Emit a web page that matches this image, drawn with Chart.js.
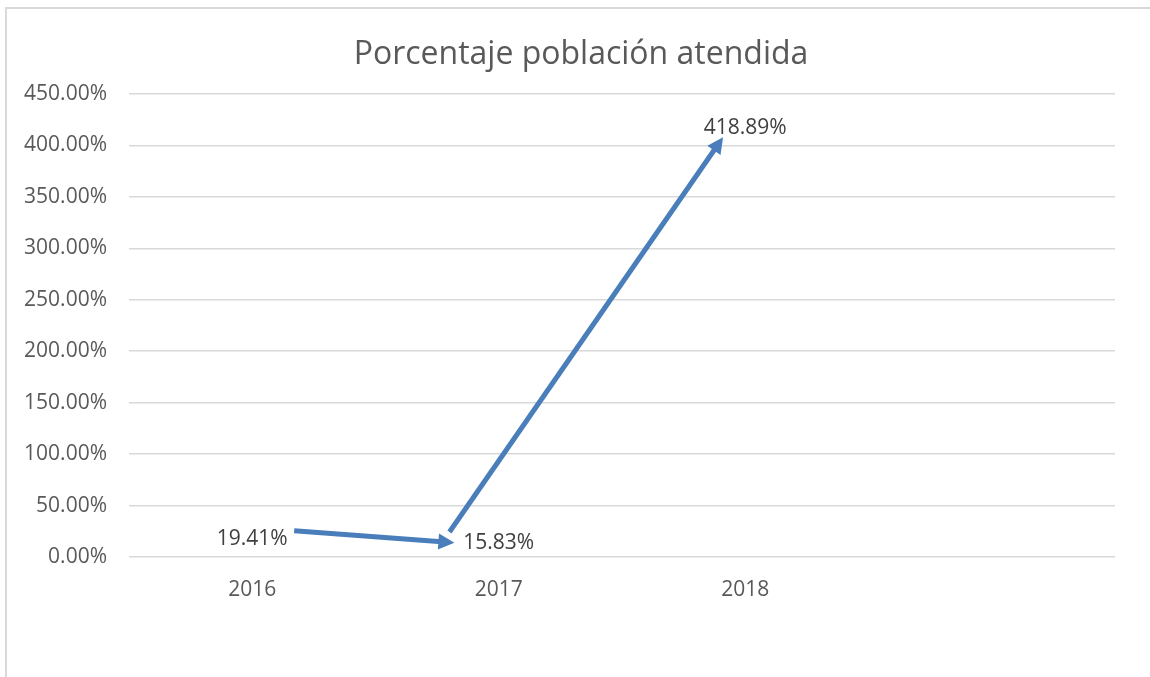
<!DOCTYPE html>
<html>
<head>
<meta charset="utf-8">
<script src="https://cdn.jsdelivr.net/npm/chart.js@4.4.1/dist/chart.umd.min.js"></script>
<style>
  body { margin: 0; background: #fff; overflow: hidden; }
  .frame { position: absolute; left: 5px; top: 7px; width: 1180px; height: 700px; border: 2px solid #d9d9d9; }
  .wrap { position: absolute; left: 0; top: 0; width: 1150px; height: 677px; }
</style>
</head>
<body>
<div class="frame"></div>
<div class="wrap"><canvas id="chart"></canvas></div>
<script>
  // Data
  const years = ['2016', '2017', '2018', ''];
  const attended = [19.41, 15.83, 418.89, null];
  const yTicks = [0, 50, 100, 150, 200, 250, 300, 350, 400, 450];
  const chartTitle = 'Porcentaje población atendida';

  // Arrows drawn over the chart, in data units (category index, percent)
  const arrowFrom = [[0.17, 25.6], [0.80, 24.3]];
  const arrowTo = [[0.82, 13.9], [1.91, 408]];

  const font = "'Open Sans', 'Liberation Sans', sans-serif";

  // draws the title, the arrows and the data labels
  const overlay = {
    id: 'overlay',
    afterDatasetsDraw(chart) {
      const c = chart.ctx;
      const xs = chart.scales.x, ys = chart.scales.y;
      c.save();
      // title is centred on the whole (wider) chart frame, not on the canvas
      c.fillStyle = '#595959';
      c.font = '32px ' + font;
      c.textAlign = 'center';
      c.textBaseline = 'middle';
      c.fillText(chartTitle, chart.width / 2 + 6, 55);

      c.strokeStyle = '#4a7ebb';
      c.fillStyle = '#4a7ebb';
      c.lineWidth = 5;
      arrowFrom.forEach((f, i) => {
        const t = arrowTo[i];
        const x1 = xs.getPixelForValue(f[0]), y1 = ys.getPixelForValue(f[1]);
        const x2 = xs.getPixelForValue(t[0]), y2 = ys.getPixelForValue(t[1]);
        const a = Math.atan2(y2 - y1, x2 - x1);
        const head = 16, half = 8;
        c.beginPath();
        c.moveTo(x1, y1);
        c.lineTo(x2 - Math.cos(a) * head * 0.8, y2 - Math.sin(a) * head * 0.8);
        c.stroke();
        c.beginPath();
        c.moveTo(x2, y2);
        c.lineTo(x2 - Math.cos(a) * head - Math.sin(a) * half, y2 - Math.sin(a) * head + Math.cos(a) * half);
        c.lineTo(x2 - Math.cos(a) * head + Math.sin(a) * half, y2 - Math.sin(a) * head - Math.cos(a) * half);
        c.closePath();
        c.fill();
      });
      c.fillStyle = '#404040';
      c.font = '21px ' + font;
      chart.getDatasetMeta(0).data.forEach((p, i) => {
        if (attended[i] == null) return;
        c.fillText(attended[i].toFixed(2) + '%', p.x, p.y + 2);
      });
      c.restore();
    }
  };

  const ctx = document.getElementById('chart').getContext('2d');
  new Chart(ctx, {
    type: 'line',
    data: {
      labels: years,
      datasets: [{
        label: chartTitle,
        data: attended,
        showLine: false,
        pointRadius: 0
      }]
    },
    options: {
      responsive: true,
      maintainAspectRatio: false,
      animation: false,
      layout: { padding: { left: 0, right: 35, top: 94, bottom: 0 } },
      scales: {
        x: {
          offset: true,
          grid: { display: false, drawTicks: false },
          border: { display: false },
          ticks: { color: '#595959', font: { family: font, size: 21 }, padding: 20 },
          afterFit(s) { s.height = 120; }
        },
        y: {
          min: yTicks[0],
          max: yTicks[yTicks.length - 1],
          grid: { color: '#d9d9d9', lineWidth: 1.5, drawTicks: false },
          border: { display: false },
          ticks: {
            stepSize: yTicks[1] - yTicks[0],
            color: '#595959',
            font: { family: font, size: 21 },
            padding: 22,
            callback: (v, i) => yTicks[i].toFixed(2) + '%'
          },
          afterFit(s) { s.width = 129; }
        }
      },
      plugins: {
        legend: { display: false },
        tooltip: { enabled: false },
        title: { display: false }
      }
    },
    plugins: [overlay]
  });
</script>
</body>
</html>
